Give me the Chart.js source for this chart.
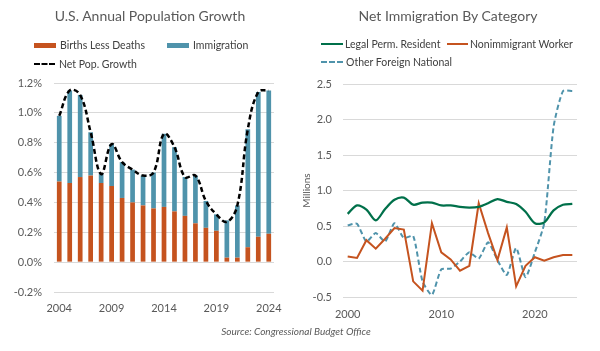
<!DOCTYPE html>
<html>
<head>
<meta charset="utf-8">
<script src="https://cdn.jsdelivr.net/npm/chart.js@4.4.1/dist/chart.umd.min.js"></script>
<style>
  html, body { margin:0; padding:0; background:#fff; }
  #root { position:relative; width:600px; height:351px; overflow:hidden; font-family:Lato, sans-serif; color:#595959; }
  .panel { position:absolute; top:0; width:300px; height:340px; }
  .title { position:absolute; top:7px; font-size:14px; color:#595959; white-space:nowrap; transform:translateX(-50%); }
  .leg { position:absolute; font-size:10.5px; color:#404040; white-space:nowrap; display:flex; align-items:center; transform:translateY(-50%); }
  .sw { display:inline-block; margin-right:4px; }
  #source { position:absolute; top:325px; left:296px; transform:translateX(-50%); font-size:10px; font-style:italic; color:#595959; white-space:nowrap; }
</style>
</head>
<body>
<div id="root">
  <div class="panel" style="left:0"><canvas id="c1" width="300" height="340"></canvas></div>
  <div class="panel" style="left:300px"><canvas id="c2" width="300" height="340"></canvas></div>

  <div class="title" style="left:150px">U.S. Annual Population Growth</div>
  <div class="title" style="left:448px">Net Immigration By Category</div>

  <div class="leg" style="left:34px;top:45px"><span class="sw" style="width:22px;height:5px;background:#C5531F"></span>Births Less Deaths</div>
  <div class="leg" style="left:167px;top:45px"><span class="sw" style="width:22px;height:5px;background:#4F93AB"></span>Immigration</div>
  <div class="leg" style="left:34px;top:64px"><span class="sw" style="width:21px;height:0;border-top:2.5px dashed #000"></span>Net Pop. Growth</div>

  <div class="leg" style="left:321px;top:44px"><span class="sw" style="width:22px;height:2.5px;background:#00704A;margin-right:2px"></span>Legal Perm. Resident</div>
  <div class="leg" style="left:447px;top:44px"><span class="sw" style="width:21px;height:2.5px;background:#C5531F;margin-right:2px"></span>Nonimmigrant Worker</div>
  <div class="leg" style="left:321px;top:62px"><span class="sw" style="width:22px;height:0;border-top:2.5px dashed #4F93AB;margin-right:3px"></span>Other Foreign National</div>

  <div id="source">Source: Congressional Budget Office</div>
</div>
<script>
// ---- Left chart data (percent of population) ----
const popYears = [2004,2005,2006,2007,2008,2009,2010,2011,2012,2013,2014,2015,2016,2017,2018,2019,2020,2021,2022,2023,2024];
const birthsLessDeaths = [0.54,0.53,0.57,0.58,0.53,0.51,0.43,0.40,0.38,0.36,0.37,0.34,0.31,0.26,0.23,0.21,0.03,0.03,0.10,0.17,0.19];
const immigration      = [0.44,0.62,0.55,0.29,0.06,0.28,0.24,0.22,0.20,0.24,0.49,0.43,0.26,0.32,0.18,0.11,0.25,0.35,0.79,0.97,0.96];
const netPopGrowth     = [0.98,1.15,1.12,0.87,0.59,0.79,0.67,0.62,0.58,0.60,0.86,0.77,0.57,0.58,0.41,0.32,0.27,0.38,0.89,1.14,1.15];
const popTicks = [-0.2,0.0,0.2,0.4,0.6,0.8,1.0,1.2];

// ---- Right chart data (millions) ----
const immYears = [2000,2001,2002,2003,2004,2005,2006,2007,2008,2009,2010,2011,2012,2013,2014,2015,2016,2017,2018,2019,2020,2021,2022,2023,2024];
const legalPermResident     = [0.67,0.79,0.73,0.58,0.74,0.87,0.90,0.80,0.83,0.83,0.79,0.79,0.77,0.76,0.77,0.82,0.88,0.84,0.81,0.70,0.54,0.55,0.72,0.80,0.81];
const nonimmigrantWorker    = [0.07,0.05,0.30,0.18,0.32,0.47,0.45,-0.28,-0.41,0.54,0.13,0.03,-0.13,-0.06,0.82,0.40,0.02,0.48,-0.35,-0.06,0.06,0.01,0.06,0.09,0.09];
const otherForeignNational  = [0.51,0.53,0.28,0.40,0.28,0.54,0.33,0.36,-0.28,-0.47,-0.11,-0.10,0.00,0.13,0.04,0.27,0.02,-0.19,0.19,-0.22,0.13,0.54,1.90,2.40,2.40];
const immTicks = [-0.5,0.0,0.5,1.0,1.5,2.0,2.5];

const ORANGE = '#C5531F', BLUE = '#4F93AB', GREEN = '#00704A', TXT = '#595959', GRID = '#D9D9D9';
const tickFont = {family:'Lato', size:11};

Chart.defaults.font.family = 'Lato';
Chart.defaults.color = TXT;
Chart.defaults.animation = false;

new Chart(document.getElementById('c1'), {
  data: {
    labels: popYears.map(String),
    datasets: [
      {type:'line', label:'Net Pop. Growth', data:netPopGrowth, borderColor:'#000', borderWidth:2.5, borderDash:[5,3], pointRadius:0, tension:0.4, fill:false, order:0},
      {type:'bar', label:'Births Less Deaths', data:birthsLessDeaths, backgroundColor:ORANGE, stack:'s', order:1},
      {type:'bar', label:'Immigration', data:immigration, backgroundColor:BLUE, stack:'s', order:1}
    ]
  },
  options: {
    responsive:false,
    layout:{padding:{top:83, right:26, left:0, bottom:20}},
    datasets:{bar:{barPercentage:0.45, categoryPercentage:1.0}},
    plugins:{legend:{display:false}, tooltip:{enabled:false}},
    scales:{
      x:{stacked:true, grid:{display:false}, border:{display:false},
         ticks:{font:tickFont, color:TXT, autoSkip:false, maxRotation:0, padding:2,
                callback:function(v,i){ return i%5===0 ? this.getLabelForValue(v) : ''; }},
         afterFit:s=>{s.height=28;}},
      y:{stacked:true, min:-0.2, max:1.2,
         afterBuildTicks:s=>{s.ticks = popTicks.map(v=>({value:v}));},
         grid:{color:GRID, drawTicks:false, lineWidth:1}, border:{display:false},
         ticks:{font:tickFont, color:TXT, padding:12, callback:v=>v.toFixed(1)+'%'},
         afterFit:s=>{s.width=54;}}
    }
  }
});

new Chart(document.getElementById('c2'), {
  type:'line',
  data: {
    labels: immYears.map(String),
    datasets: [
      {label:'Legal Perm. Resident', data:legalPermResident, borderColor:GREEN, borderWidth:2.25, pointRadius:0, tension:0.3},
      {label:'Nonimmigrant Worker', data:nonimmigrantWorker, borderColor:ORANGE, borderWidth:2, pointRadius:0, tension:0},
      {label:'Other Foreign National', data:otherForeignNational, borderColor:BLUE, borderWidth:2, borderDash:[5,3], pointRadius:0, tension:0.2}
    ]
  },
  options: {
    responsive:false,
    layout:{padding:{top:84, right:23, left:0, bottom:20}},
    plugins:{legend:{display:false}, tooltip:{enabled:false}},
    scales:{
      x:{offset:true, grid:{display:false}, border:{display:false},
         ticks:{font:tickFont, color:TXT, autoSkip:false, maxRotation:0, padding:3,
                callback:function(v,i){ const y=immYears[i]; return y%10===0 ? String(y) : ''; }},
         afterFit:s=>{s.height=23;}},
      y:{min:-0.5, max:2.5,
         afterBuildTicks:s=>{s.ticks = immTicks.map(v=>({value:v}));},
         grid:{color:GRID, drawTicks:false}, border:{display:false},
         title:{display:true, text:'Millions', font:{family:'Lato', size:10}, color:TXT, padding:{top:1,bottom:0}},
         ticks:{font:tickFont, color:TXT, padding:11, callback:v=>v.toFixed(1)},
         afterFit:s=>{s.width=43;}}
    }
  }
});
</script>
</body>
</html>
